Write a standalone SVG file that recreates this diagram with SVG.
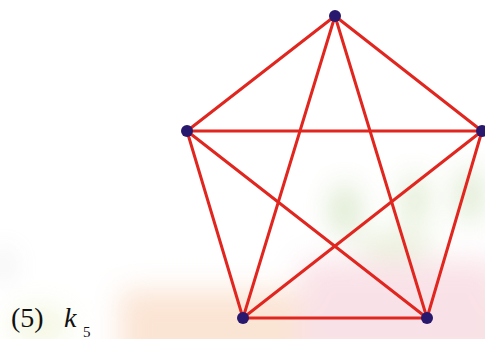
<svg xmlns="http://www.w3.org/2000/svg" width="485" height="339" viewBox="0 0 485 339">
<defs>
<filter id="blur" filterUnits="userSpaceOnUse" x="-100" y="-100" width="700" height="600"><feGaussianBlur stdDeviation="14"/></filter>
<style>
.e{stroke:#e0261f;stroke-width:3;stroke-linecap:round;fill:none}
.n{fill:#28186e}
.t{font-family:'Liberation Serif','DejaVu Serif',serif;fill:#111111}
.big{font-size:28px}
.sub{font-size:15px}
.it{font-style:italic}
</style>
</defs>
<rect width="485" height="339" fill="#ffffff"/>
<g id="background" filter="url(#blur)" opacity="0.45">
<rect x="120" y="290" width="400" height="80" fill="#f6c4a0"/>
<rect x="300" y="260" width="200" height="100" fill="#f3c0cc"/>
<ellipse cx="345" cy="210" rx="14" ry="26" fill="#a9c985"/>
<ellipse cx="415" cy="200" rx="12" ry="26" fill="#b3cf8c"/>
<ellipse cx="470" cy="195" rx="12" ry="28" fill="#a9c985"/>
<ellipse cx="395" cy="245" rx="40" ry="12" fill="#c6dba4"/>
<ellipse cx="40" cy="325" rx="30" ry="18" fill="#e6ebb8"/>
<ellipse cx="3" cy="265" rx="6" ry="14" fill="#b5b5b5"/>
</g>
<g id="connectors">
<line class="e" x1="335" y1="16" x2="187" y2="131"/>
<line class="e" x1="335" y1="16" x2="482" y2="131"/>
<line class="e" x1="335" y1="16" x2="243" y2="318"/>
<line class="e" x1="335" y1="16" x2="427" y2="318"/>
<line class="e" x1="187" y1="131" x2="482" y2="131"/>
<line class="e" x1="187" y1="131" x2="243" y2="318"/>
<line class="e" x1="187" y1="131" x2="427" y2="318"/>
<line class="e" x1="482" y1="131" x2="243" y2="318"/>
<line class="e" x1="482" y1="131" x2="427" y2="318"/>
<line class="e" x1="243" y1="318" x2="427" y2="318"/>
</g>
<g id="node-top"><circle class="n" cx="335" cy="16" r="6"/></g>
<g id="node-left"><circle class="n" cx="187" cy="131" r="6"/></g>
<g id="node-right"><circle class="n" cx="482" cy="131" r="6"/></g>
<g id="node-bottom-left"><circle class="n" cx="243" cy="318" r="6"/></g>
<g id="node-bottom-right"><circle class="n" cx="427" cy="318" r="6"/></g>
<g id="label">
<text class="t big" x="11" y="327">(5)</text>
<text class="t big it" x="64" y="327">k</text>
<text class="t sub" x="83" y="337">5</text>
</g>
</svg>
